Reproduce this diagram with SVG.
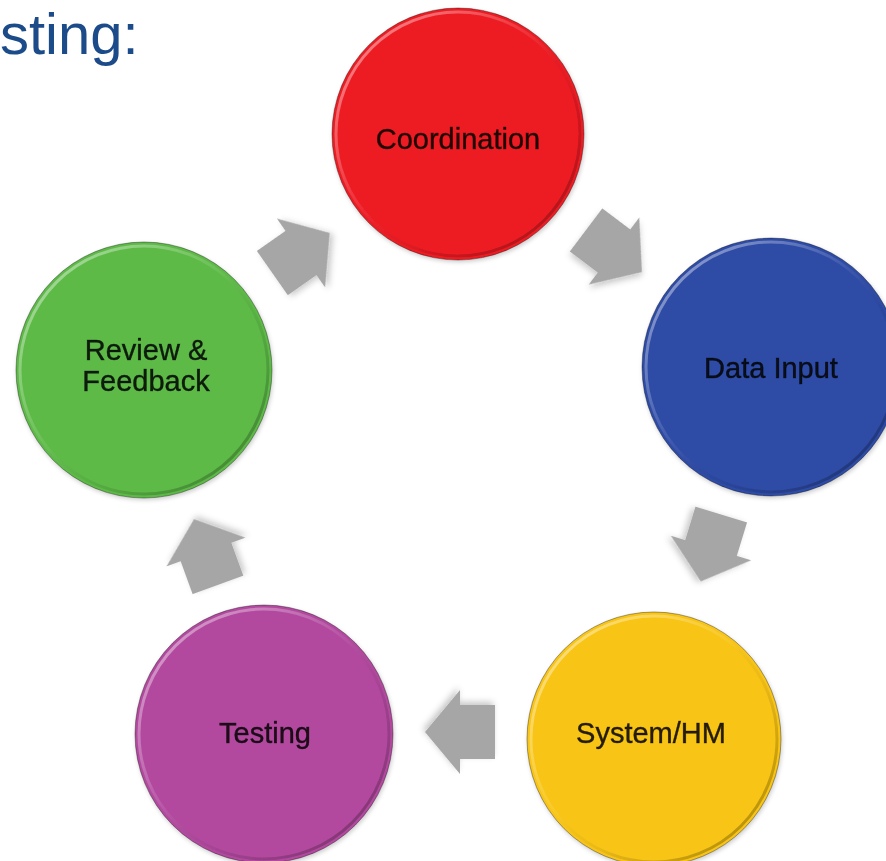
<svg xmlns="http://www.w3.org/2000/svg" width="886" height="861" viewBox="0 0 886 861">
<defs>
  <linearGradient id="rim" x1="0" y1="0" x2="1" y2="1">
    <stop offset="0" stop-color="#ffffff" stop-opacity="0.55"/>
    <stop offset="0.45" stop-color="#ffffff" stop-opacity="0.08"/>
    <stop offset="0.6" stop-color="#000000" stop-opacity="0.05"/>
    <stop offset="1" stop-color="#000000" stop-opacity="0.35"/>
  </linearGradient>
  <filter id="sh" x="-30%" y="-30%" width="160%" height="160%">
    <feDropShadow dx="2" dy="3" stdDeviation="3" flood-color="#000" flood-opacity="0.22"/>
  </filter>
  <filter id="csh" x="-10%" y="-10%" width="120%" height="120%">
    <feDropShadow dx="1" dy="2" stdDeviation="2" flood-color="#000" flood-opacity="0.2"/>
  </filter>
  <polygon id="arr" points="-35,-27 0,-27 0,-42 35,0 0,42 0,27 -35,27"/>
</defs>
<style>
  .title { font-family: "Liberation Sans", Arial, sans-serif; font-size: 58px; fill: #1c4b8a; }
  .lbl { font-family: "Liberation Sans", Arial, sans-serif; font-size: 29px; fill: #000; fill-opacity: 0.85; stroke: #000; stroke-opacity: 0.6; stroke-width: 0.5; text-anchor: middle; }
  .edge { stroke: #000; stroke-opacity: 0.35; stroke-width: 1; }
  .bevel { fill: none; stroke: url(#rim); stroke-width: 3; }
  .arrow { fill: #a6a6a6; filter: url(#sh); }
</style>
<rect width="886" height="861" fill="#ffffff"/>
<text class="title" x="0" y="54">sting:</text>

<g id="connectors">
  <use href="#arr" class="arrow" transform="translate(301,253) rotate(-35)"/>
  <use href="#arr" class="arrow" transform="translate(614,251) rotate(37)"/>
  <use href="#arr" class="arrow" transform="translate(711,548) rotate(107)"/>
  <use href="#arr" class="arrow" transform="translate(460,732) rotate(180)"/>
  <use href="#arr" class="arrow" transform="translate(206,552) rotate(-110)"/>
</g>

<g id="coordination" filter="url(#csh)">
  <circle cx="458" cy="134" r="126" fill="#ed1c24" class="edge"/>
  <circle cx="458" cy="134" r="122" class="bevel"/>
  <text class="lbl" x="458" y="149">Coordination</text>
</g>
<g id="data-input" filter="url(#csh)">
  <circle cx="771" cy="367" r="129" fill="#2e4ba6" class="edge"/>
  <circle cx="771" cy="367" r="125" class="bevel"/>
  <text class="lbl" x="771" y="378">Data Input</text>
</g>
<g id="system-hm" filter="url(#csh)">
  <circle cx="654" cy="739" r="127" fill="#f8c414" class="edge"/>
  <circle cx="654" cy="739" r="123" class="bevel"/>
  <text class="lbl" x="651" y="743">System/HM</text>
</g>
<g id="testing" filter="url(#csh)">
  <circle cx="264" cy="734" r="129" fill="#b2499f" class="edge"/>
  <circle cx="264" cy="734" r="125" class="bevel"/>
  <text class="lbl" x="265" y="743">Testing</text>
</g>
<g id="review-feedback" filter="url(#csh)">
  <circle cx="144" cy="370" r="128" fill="#5dba47" class="edge"/>
  <circle cx="144" cy="370" r="124" class="bevel"/>
  <text class="lbl" x="146" y="360">Review &amp;</text>
  <text class="lbl" x="146" y="391">Feedback</text>
</g>
</svg>
